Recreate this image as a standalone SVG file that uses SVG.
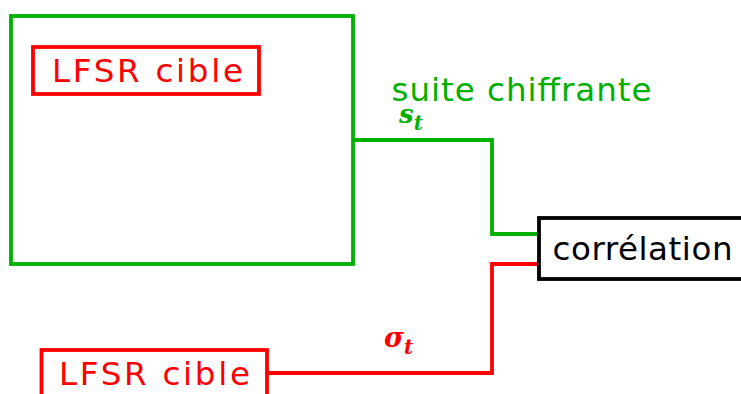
<svg xmlns="http://www.w3.org/2000/svg" width="741" height="394" viewBox="0 0 741 394">
<style>
.g{fill:none;stroke:#00b000;stroke-width:3.8}
.r{fill:none;stroke:#ff0000;stroke-width:3.8}
.k{fill:#fff;stroke:#000;stroke-width:3.8}
.lbl{font-family:"DejaVu Sans",sans-serif;font-size:32.5px}
.m{font-family:"DejaVu Serif",serif;font-style:italic;font-weight:bold}
</style>
<rect width="741" height="394" fill="#fff"/>
<g id="connectors">
<polyline class="g" points="353,140 492,140 492,234 539,234"/>
<polyline class="r" points="267,373 492,373 492,264 539,264"/>
</g>
<g id="generator">
<rect class="g" x="11" y="16" width="342" height="248"/>
</g>
<g id="lfsr-top">
<rect class="r" x="33" y="47" width="226" height="47"/>
<text class="lbl" x="52" y="82" fill="#ff0000" textLength="191" lengthAdjust="spacing">LFSR cible</text>
</g>
<g id="lfsr-bottom">
<rect class="r" x="41.5" y="350" width="225.5" height="60"/>
<text class="lbl" x="59" y="385" fill="#ff0000" textLength="191" lengthAdjust="spacing">LFSR cible</text>
</g>
<g id="correlation">
<rect class="k" x="539" y="218" width="220" height="61"/>
<text class="lbl" x="552.5" y="260" fill="#000" textLength="180" lengthAdjust="spacing">corrélation</text>
</g>
<g id="labels">
<text class="lbl" x="391.5" y="101" fill="#00b000" textLength="260" lengthAdjust="spacing">suite chiffrante</text>
<text class="m" x="399" y="123" fill="#00b000" font-size="26">s<tspan font-size="20" dy="7">t</tspan></text>
<text class="m" x="384" y="347" fill="#ff0000" font-size="27">σ<tspan font-size="20" dy="7">t</tspan></text>
</g>
</svg>
